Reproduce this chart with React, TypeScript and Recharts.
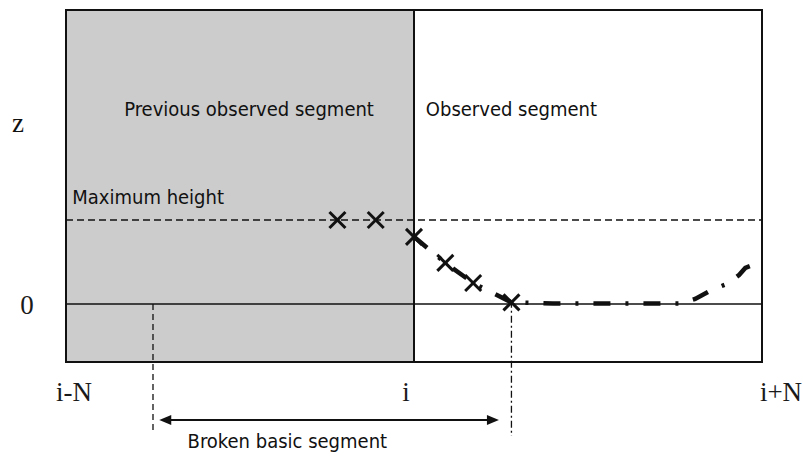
import React from 'react';
import {
    ComposedChart,
    Line,
    Scatter,
    XAxis,
    YAxis,
    ReferenceArea,
    ReferenceLine,
    ReferenceDot
} from 'recharts';

// x is measured in samples relative to i, the window runs from i-N to i+N
const windowTicks = [-50, 0, 50];
const windowLabels = ['i-N', 'i', 'i+N'];
const zTicks = [0];
const zLabels = ['0'];

const maxHeight = 10;
const zRange = [-6.9, 35];

// measured points (crosses)
const crossX = [-11, -5.5, 0, 4.5, 8.5, 14];
const crossZ = [10, 10, 8.0, 4.9, 2.5, 0.2];

// fitted profile (dash-dot curve)
const profileX = [0, 4.5, 8.5, 14, 20, 30, 38.2, 40.4, 42.8, 45, 46.7, 47.6, 48.7];
const profileZ = [8.0, 4.9, 2.5, 0.2, 0.05, 0.05, 0.05, 0.6, 1.7, 2.4, 3.45, 4.3, 4.65];

// start of broken basic segment and the point where it ends
const brokenStart = -37.5;
const brokenEnd = 14;

const crosses = crossX.map((x, k) => ({ x, y: crossZ[k] }));
const profile = profileX.map((x, k) => ({ x, y: profileZ[k] }));

const SANS = "'DejaVu Sans Condensed', 'Liberation Sans', Arial, sans-serif";
const SERIF = "'Liberation Serif', 'Times New Roman', serif";

const tickShift = [8, -8, 19];

function WindowTick(props: any) {
    const { x, y, payload, index } = props;
    return (
        <text x={x + tickShift[index]} y={y + 39} textAnchor="middle"
            fontFamily={SERIF} fontSize={27} fill="#1a1a1a">
            {windowLabels[windowTicks.indexOf(payload.value)]}
        </text>
    );
}

function ZTick(props: any) {
    const { x, y, payload } = props;
    return (
        <text x={x - 39} y={y} dy="0.36em" textAnchor="middle"
            fontFamily={SERIF} fontSize={27} fill="#1a1a1a">
            {zLabels[zTicks.indexOf(payload.value)]}
        </text>
    );
}

function Cross(props: any) {
    const { cx, cy } = props;
    const a = 8;
    return (
        <g stroke="#111" strokeWidth={3}>
            <line x1={cx - a} y1={cy - a} x2={cx + a} y2={cy + a} />
            <line x1={cx - a} y1={cy + a} x2={cx + a} y2={cy - a} />
        </g>
    );
}

function Arrow(props: any) {
    const { x1, y1, x2, y2 } = props;
    const h = 12;
    const w = 5;
    return (
        <g>
            <line x1={x1 + 4} y1={y1} x2={x2 - 4} y2={y2} stroke="#111" strokeWidth={2} />
            <polygon points={`${x1},${y1} ${x1 + h},${y1 - w} ${x1 + h},${y1 + w}`} fill="#111" />
            <polygon points={`${x2},${y2} ${x2 - h},${y2 - w} ${x2 - h},${y2 + w}`} fill="#111" />
        </g>
    );
}

function note(text: string, anchor: 'start' | 'middle' | 'end', family = SANS, size = 20) {
    return {
        content: (p: any) => (
            <text x={p.viewBox.x} y={p.viewBox.y} dy="0.36em" textAnchor={anchor}
                fontFamily={family} fontSize={size} fill="#111">
                {text}
            </text>
        )
    };
}

export default function App() {
    return (
        <div style={{ position: 'absolute', left: 0, top: 0, width: 803, height: 461, background: '#fff' }}>
            <ComposedChart width={803} height={461} margin={{ top: 10, right: 41, bottom: 69, left: 6 }}>
                <XAxis dataKey="x" type="number" domain={[-50, 50]} ticks={windowTicks}
                    axisLine={false} tickLine={false} tickSize={0} tickMargin={0} height={30}
                    tick={<WindowTick />} />
                <YAxis type="number" domain={zRange} ticks={zTicks} width={60}
                    axisLine={false} tickLine={false} tickSize={0} tickMargin={0}
                    tick={<ZTick />} />

                <ReferenceArea x1={-50} x2={50} y1={zRange[0]} y2={zRange[1]}
                    fill="#fff" fillOpacity={1} stroke="#111" strokeWidth={2} />
                <ReferenceArea x1={-50} x2={0} y1={zRange[0]} y2={zRange[1]}
                    fill="#cccccc" fillOpacity={1} stroke="#111" strokeWidth={2} />

                <ReferenceLine y={0} stroke="#111" strokeWidth={1.5} />
                <ReferenceLine y={maxHeight} stroke="#111" strokeWidth={1.5} strokeDasharray="7 4" />

                <ReferenceLine ifOverflow="visible" stroke="#111" strokeWidth={1.3} strokeDasharray="6 4"
                    segment={[{ x: brokenStart, y: 0 }, { x: brokenStart, y: -15 }]} />
                <ReferenceLine ifOverflow="visible" stroke="#111" strokeWidth={1.3} strokeDasharray="7 3 2 3"
                    segment={[{ x: brokenEnd, y: 0.4 }, { x: brokenEnd, y: -15.7 }]} />
                <ReferenceLine ifOverflow="visible" shape={<Arrow />}
                    segment={[{ x: -36.6, y: -13.8 }, { x: 12.2, y: -13.8 }]} />

                <Line data={profile} dataKey="y" type="linear" stroke="#111" strokeWidth={4.5}
                    strokeDasharray="17 15 3 15" dot={false} activeDot={false} isAnimationActive={false} />
                <Scatter data={crosses} dataKey="y" shape={<Cross />} isAnimationActive={false} />

                <ReferenceDot x={-23.7} y={23.2} r={0} fill="none" stroke="none" ifOverflow="visible"
                    label={note('Previous observed segment', 'middle')} />
                <ReferenceDot x={1.7} y={23.2} r={0} fill="none" stroke="none" ifOverflow="visible"
                    label={note('Observed segment', 'start')} />
                <ReferenceDot x={-49.1} y={12.8} r={0} fill="none" stroke="none" ifOverflow="visible"
                    label={note('Maximum height', 'start')} />
                <ReferenceDot x={-18.2} y={-16.3} r={0} fill="none" stroke="none" ifOverflow="visible"
                    label={note('Broken basic segment', 'middle')} />
                <ReferenceDot x={-56.9} y={21.6} r={0} fill="none" stroke="none" ifOverflow="visible"
                    label={note('z', 'middle', SERIF, 27)} />
            </ComposedChart>
        </div>
    );
}
